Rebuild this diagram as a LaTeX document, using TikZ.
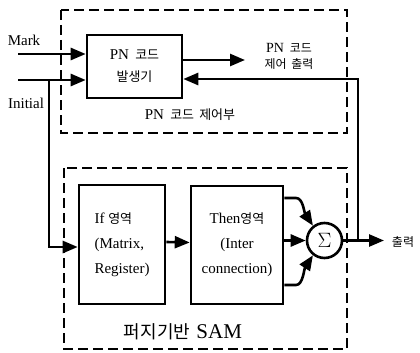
\documentclass[tikz,border=0pt]{standalone}
\usepackage{fontspec}
\setmainfont{Liberation Serif}
\newfontfamily\kr{Noto Sans CJK KR}
\usetikzlibrary{arrows.meta}

\tikzset{
  solidbox/.style={draw, line width=2.6pt, inner sep=0pt},
  region/.style={draw, line width=2.5pt, dash pattern=on 10pt off 5pt},
  arr/.style={line width=2.6pt, -{Triangle[length=15pt,width=12pt]}},
  lbl/.style={inner sep=0pt, font=\fontsize{15}{22}\selectfont},
}

\begin{document}
\begin{tikzpicture}[x=1pt,y=-1pt]
\useasboundingbox (0,0) rectangle (420,353);

% dashed outlines of the two sub-systems
\draw[region] (61,10) rectangle (347,133);
\draw[region] (64,168) rectangle (347,349);

% blocks
\node[solidbox, minimum width=95pt, minimum height=63pt, align=center,
      font=\fontsize{15}{22}\selectfont] (pn) at (134.5,66.5)
      {PN\, {\kr\fontsize{13}{22}\selectfont 코드}\\{\kr\fontsize{13}{22}\selectfont 발생기}};
\node[solidbox, minimum width=86pt, minimum height=119pt, align=left,
      font=\fontsize{15}{25}\selectfont] (ifb) at (122,244.5)
      {If {\kr\fontsize{13}{25}\selectfont 영역}\\(Matrix,\\Register)};
\node[solidbox, minimum width=92pt, minimum height=118pt, align=center,
      font=\fontsize{15}{25}\selectfont] (thenb) at (237,245)
      {Then{\kr\fontsize{13}{25}\selectfont 영역}\\(Inter\hspace*{20pt}\\connection)};
\node[solidbox, circle, minimum size=35pt] (sig) at (324.5,240.5)
      {\fontsize{22}{22}\selectfont$\Sigma$};

% free ends of the connectors
\coordinate (markin) at (18,54);
\coordinate (initin) at (18,80);
\coordinate (initdrop) at (49,80);
\coordinate (pnend) at (245,60);
\coordinate (fb) at (358,240.5);
\coordinate (outend) at (384,240.5);

% inputs to the PN code generator
\draw[arr] (markin) -- (markin -| pn.west);
\draw[arr] (initin) -- (initin -| pn.west);
\draw[arr] (pnend -| pn.east) -- (pnend);

% initial value routed down to the If block
\draw[arr] (initdrop) |- ([shift={(0,2.5)}]ifb.west);

% If -> Then
\draw[arr] ([shift={(0,-2.5)}]ifb.east) -- ([shift={(0,-2.5)}]thenb.west);

% Then -> summation
\draw[arr] (thenb.east |- sig.west) -- (sig.west);
\draw[arr] (thenb.east |- 0,198) -- (296,198)
      .. controls (303,198) and (304,212) .. (sig.128);
\draw[arr] (thenb.east |- 0,285) -- (296,285)
      .. controls (303,285) and (304,269) .. (sig.232);

% output and feedback to the PN code generator
\draw[arr] (sig.east) -- (outend);
\draw[arr] (fb) |- ([shift={(0,12.5)}]pn.east);

% labels
\node[lbl] (mark) at (24,40) {Mark};
\node[lbl] (init) at (26,103) {Initial};
\node[lbl, align=center, font=\fontsize{14}{16}\selectfont] (pnout) at (289,56)
      {PN\, {\kr\fontsize{12}{16}\selectfont 코드}\\{\kr\fontsize{12}{16}\selectfont 제어\, 출력}};
\node[lbl] (ctrl) at (190,115) {PN\, {\kr\fontsize{13}{16}\selectfont 코드\, 제어부}};
\node[lbl] (out) at (403,242) {\kr\fontsize{12}{16}\selectfont 출력};
\node[lbl] (sam) at (183,332) {{\kr\fontsize{18}{20}\selectfont 퍼지기반}\, \fontsize{21}{22}\selectfont SAM};
\end{tikzpicture}
\end{document}
